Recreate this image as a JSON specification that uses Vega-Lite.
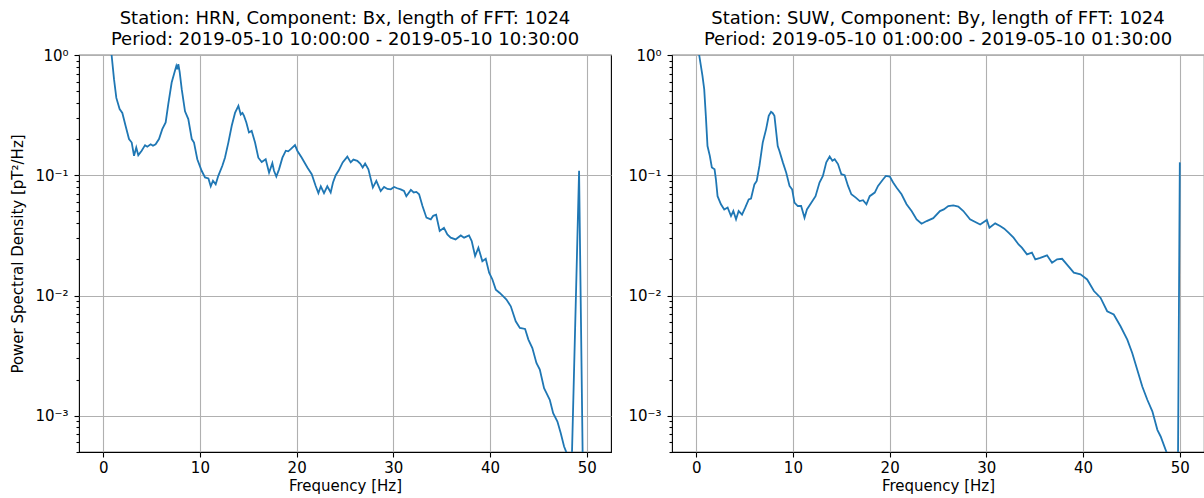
{
  "$schema": "https://vega.github.io/schema/vega-lite/v6.json",
  "padding": {"left": 10, "top": 9, "right": 0, "bottom": 0},
  "spacing": 15,
  "config": {
    "font": "DejaVu Sans",
    "view": {"stroke": "#000000", "strokeWidth": 1.1},
    "axis": {
      "domain": false,
      "tickColor": "#000000",
      "tickWidth": 1.1,
      "gridColor": "#b0b0b0",
      "gridWidth": 1.1,
      "labelFont": "DejaVu Sans",
      "labelFontSize": 15,
      "labelColor": "#000000",
      "labelFlush": false,
      "labelOverlap": false,
      "titleFont": "DejaVu Sans",
      "titleFontSize": 15,
      "titleFontWeight": "normal",
      "titleColor": "#000000"
    },
    "title": {"font": "DejaVu Sans", "fontSize": 18, "fontWeight": "normal", "color": "#000000", "lineHeight": 21, "offset": -1, "anchor": "middle"}
  },
  "datasets": {
    "hrn": [
      {"f": 0, "psd": 10}, {"f": 0.3, "psd": 3}, {"f": 0.6, "psd": 1.5}, {"f": 0.87, "psd": 1.0}, {"f": 1.12, "psd": 0.63},
      {"f": 1.36, "psd": 0.44}, {"f": 1.7, "psd": 0.355}, {"f": 1.98, "psd": 0.33}, {"f": 2.32, "psd": 0.257}, {"f": 2.67, "psd": 0.2},
      {"f": 2.95, "psd": 0.187}, {"f": 3.19, "psd": 0.145}, {"f": 3.42, "psd": 0.17}, {"f": 3.63, "psd": 0.147}, {"f": 3.98, "psd": 0.16},
      {"f": 4.33, "psd": 0.178}, {"f": 4.56, "psd": 0.173}, {"f": 4.91, "psd": 0.181}, {"f": 5.15, "psd": 0.176}, {"f": 5.42, "psd": 0.181},
      {"f": 5.77, "psd": 0.2}, {"f": 6.11, "psd": 0.242}, {"f": 6.46, "psd": 0.275}, {"f": 6.73, "psd": 0.39}, {"f": 7.08, "psd": 0.59},
      {"f": 7.42, "psd": 0.74}, {"f": 7.56, "psd": 0.81}, {"f": 7.66, "psd": 0.76}, {"f": 7.77, "psd": 0.84}, {"f": 7.91, "psd": 0.72},
      {"f": 8.12, "psd": 0.52}, {"f": 8.46, "psd": 0.34}, {"f": 8.8, "psd": 0.293}, {"f": 9.16, "psd": 0.2}, {"f": 9.39, "psd": 0.187},
      {"f": 9.73, "psd": 0.136}, {"f": 10.18, "psd": 0.109}, {"f": 10.53, "psd": 0.096}, {"f": 10.88, "psd": 0.094}, {"f": 11.12, "psd": 0.081},
      {"f": 11.35, "psd": 0.09}, {"f": 11.63, "psd": 0.084}, {"f": 11.9, "psd": 0.099}, {"f": 12.32, "psd": 0.12}, {"f": 12.59, "psd": 0.14},
      {"f": 12.94, "psd": 0.187}, {"f": 13.29, "psd": 0.258}, {"f": 13.63, "psd": 0.33}, {"f": 13.98, "psd": 0.378}, {"f": 14.22, "psd": 0.32},
      {"f": 14.4, "psd": 0.33}, {"f": 14.56, "psd": 0.312}, {"f": 14.8, "psd": 0.275}, {"f": 15.07, "psd": 0.227}, {"f": 15.35, "psd": 0.234},
      {"f": 15.7, "psd": 0.187}, {"f": 16.04, "psd": 0.14}, {"f": 16.39, "psd": 0.129}, {"f": 16.8, "psd": 0.136}, {"f": 17.15, "psd": 0.105},
      {"f": 17.49, "psd": 0.126}, {"f": 17.66, "psd": 0.109}, {"f": 17.9, "psd": 0.0975}, {"f": 18.18, "psd": 0.112}, {"f": 18.53, "psd": 0.14},
      {"f": 18.88, "psd": 0.16}, {"f": 19.13, "psd": 0.158}, {"f": 19.39, "psd": 0.165}, {"f": 19.83, "psd": 0.178}, {"f": 20.07, "psd": 0.16},
      {"f": 20.53, "psd": 0.14}, {"f": 21.11, "psd": 0.116}, {"f": 21.56, "psd": 0.102}, {"f": 21.97, "psd": 0.0815}, {"f": 22.25, "psd": 0.071},
      {"f": 22.5, "psd": 0.081}, {"f": 22.83, "psd": 0.071}, {"f": 23.17, "psd": 0.081}, {"f": 23.52, "psd": 0.072}, {"f": 23.76, "psd": 0.087},
      {"f": 24.04, "psd": 0.1}, {"f": 24.36, "psd": 0.11}, {"f": 24.76, "psd": 0.128}, {"f": 25.24, "psd": 0.143}, {"f": 25.59, "psd": 0.128},
      {"f": 25.87, "psd": 0.135}, {"f": 26.27, "psd": 0.132}, {"f": 26.57, "psd": 0.125}, {"f": 26.83, "psd": 0.116}, {"f": 27.08, "psd": 0.125},
      {"f": 27.42, "psd": 0.112}, {"f": 27.88, "psd": 0.079}, {"f": 28.24, "psd": 0.0897}, {"f": 28.69, "psd": 0.074}, {"f": 29.04, "psd": 0.08},
      {"f": 29.39, "psd": 0.077}, {"f": 29.73, "psd": 0.0764}, {"f": 30.08, "psd": 0.08}, {"f": 30.4, "psd": 0.078}, {"f": 30.76, "psd": 0.0764},
      {"f": 31.1, "psd": 0.074}, {"f": 31.34, "psd": 0.067}, {"f": 31.81, "psd": 0.0755}, {"f": 32.1, "psd": 0.072}, {"f": 32.38, "psd": 0.0727},
      {"f": 32.66, "psd": 0.0695}, {"f": 33.01, "psd": 0.0555}, {"f": 33.42, "psd": 0.0444}, {"f": 33.87, "psd": 0.043}, {"f": 34.12, "psd": 0.046},
      {"f": 34.42, "psd": 0.047}, {"f": 34.79, "psd": 0.0344}, {"f": 35.23, "psd": 0.0366}, {"f": 35.58, "psd": 0.0322}, {"f": 35.93, "psd": 0.0303},
      {"f": 36.43, "psd": 0.0293}, {"f": 36.97, "psd": 0.0316}, {"f": 37.31, "psd": 0.0303}, {"f": 37.82, "psd": 0.0316}, {"f": 38.1, "psd": 0.0284},
      {"f": 38.45, "psd": 0.0213}, {"f": 38.79, "psd": 0.025}, {"f": 39.2, "psd": 0.0193}, {"f": 39.55, "psd": 0.0202}, {"f": 39.9, "psd": 0.0155},
      {"f": 40.24, "psd": 0.0136}, {"f": 40.59, "psd": 0.0112}, {"f": 41.0, "psd": 0.0105}, {"f": 41.34, "psd": 0.00987}, {"f": 41.69, "psd": 0.00927},
      {"f": 42.14, "psd": 0.00814}, {"f": 42.65, "psd": 0.0061}, {"f": 43.08, "psd": 0.00538}, {"f": 43.62, "psd": 0.00527}, {"f": 43.96, "psd": 0.0043},
      {"f": 44.37, "psd": 0.00366}, {"f": 44.79, "psd": 0.00275}, {"f": 45.14, "psd": 0.00242}, {"f": 45.58, "psd": 0.0017}, {"f": 45.82, "psd": 0.00155},
      {"f": 46.17, "psd": 0.00136}, {"f": 46.52, "psd": 0.00105}, {"f": 46.96, "psd": 0.000897}, {"f": 47.3, "psd": 0.000718}, {"f": 47.65, "psd": 0.000555},
      {"f": 47.9, "psd": 0.000494}, {"f": 48.1, "psd": 0.00035}, {"f": 48.4, "psd": 0.0003}, {"f": 49.2, "psd": 0.109}, {"f": 49.6, "psd": 0.0003},
      {"f": 50.0, "psd": 0.0002}
    ],
    "suw": [
      {"f": 0, "psd": 2.5}, {"f": 0.15, "psd": 1.6}, {"f": 0.31, "psd": 1.0}, {"f": 0.65, "psd": 0.67}, {"f": 0.83, "psd": 0.52},
      {"f": 1.0, "psd": 0.31}, {"f": 1.17, "psd": 0.175}, {"f": 1.41, "psd": 0.145}, {"f": 1.62, "psd": 0.116}, {"f": 1.9, "psd": 0.112},
      {"f": 2.04, "psd": 0.0926}, {"f": 2.21, "psd": 0.067}, {"f": 2.56, "psd": 0.0574}, {"f": 2.9, "psd": 0.052}, {"f": 3.25, "psd": 0.054},
      {"f": 3.6, "psd": 0.0458}, {"f": 3.84, "psd": 0.0504}, {"f": 4.12, "psd": 0.043}, {"f": 4.39, "psd": 0.0504}, {"f": 4.74, "psd": 0.047},
      {"f": 5.08, "psd": 0.054}, {"f": 5.43, "psd": 0.063}, {"f": 5.67, "psd": 0.064}, {"f": 6.02, "psd": 0.084}, {"f": 6.26, "psd": 0.0897},
      {"f": 6.54, "psd": 0.12}, {"f": 6.88, "psd": 0.187}, {"f": 7.23, "psd": 0.242}, {"f": 7.5, "psd": 0.312}, {"f": 7.74, "psd": 0.337},
      {"f": 7.9, "psd": 0.33}, {"f": 8.09, "psd": 0.312}, {"f": 8.43, "psd": 0.175}, {"f": 8.6, "psd": 0.16}, {"f": 8.96, "psd": 0.128},
      {"f": 9.31, "psd": 0.105}, {"f": 9.65, "psd": 0.0815}, {"f": 9.92, "psd": 0.0764}, {"f": 10.16, "psd": 0.0592}, {"f": 10.51, "psd": 0.0555},
      {"f": 10.85, "psd": 0.0555}, {"f": 11.2, "psd": 0.0444}, {"f": 11.45, "psd": 0.052}, {"f": 11.9, "psd": 0.059}, {"f": 12.34, "psd": 0.067},
      {"f": 12.75, "psd": 0.0869}, {"f": 13.1, "psd": 0.0987}, {"f": 13.45, "psd": 0.128}, {"f": 13.8, "psd": 0.143}, {"f": 14.08, "psd": 0.132},
      {"f": 14.32, "psd": 0.136}, {"f": 14.66, "psd": 0.124}, {"f": 15.01, "psd": 0.102}, {"f": 15.35, "psd": 0.1}, {"f": 15.7, "psd": 0.0815},
      {"f": 16.04, "psd": 0.0695}, {"f": 16.5, "psd": 0.0652}, {"f": 16.91, "psd": 0.061}, {"f": 17.25, "psd": 0.062}, {"f": 17.6, "psd": 0.0574},
      {"f": 17.94, "psd": 0.067}, {"f": 18.46, "psd": 0.0718}, {"f": 18.8, "psd": 0.0815}, {"f": 19.33, "psd": 0.0926}, {"f": 19.61, "psd": 0.0987},
      {"f": 20.02, "psd": 0.0975}, {"f": 20.36, "psd": 0.087}, {"f": 20.71, "psd": 0.079}, {"f": 21.23, "psd": 0.0695}, {"f": 21.75, "psd": 0.0574},
      {"f": 22.27, "psd": 0.0504}, {"f": 22.79, "psd": 0.043}, {"f": 23.3, "psd": 0.0395}, {"f": 23.83, "psd": 0.0416}, {"f": 24.51, "psd": 0.044},
      {"f": 25.2, "psd": 0.0504}, {"f": 25.6, "psd": 0.052}, {"f": 26.06, "psd": 0.0555}, {"f": 26.58, "psd": 0.0562}, {"f": 27.1, "psd": 0.0548},
      {"f": 27.62, "psd": 0.0504}, {"f": 28.31, "psd": 0.043}, {"f": 29.36, "psd": 0.039}, {"f": 30.05, "psd": 0.0425}, {"f": 30.32, "psd": 0.0366},
      {"f": 30.91, "psd": 0.0398}, {"f": 31.42, "psd": 0.0378}, {"f": 31.85, "psd": 0.036}, {"f": 32.29, "psd": 0.0333}, {"f": 32.81, "psd": 0.0303},
      {"f": 33.33, "psd": 0.0266}, {"f": 33.67, "psd": 0.025}, {"f": 34.2, "psd": 0.022}, {"f": 34.71, "psd": 0.0227}, {"f": 35.06, "psd": 0.02},
      {"f": 35.57, "psd": 0.0206}, {"f": 36.27, "psd": 0.0216}, {"f": 36.79, "psd": 0.0187}, {"f": 37.31, "psd": 0.02}, {"f": 37.83, "psd": 0.0202},
      {"f": 38.34, "psd": 0.0181}, {"f": 39.04, "psd": 0.0155}, {"f": 39.73, "psd": 0.015}, {"f": 40.42, "psd": 0.0136}, {"f": 41.12, "psd": 0.0109},
      {"f": 41.8, "psd": 0.0096}, {"f": 42.49, "psd": 0.0074}, {"f": 43.17, "psd": 0.00695}, {"f": 43.87, "psd": 0.00555}, {"f": 44.57, "psd": 0.0043},
      {"f": 45.08, "psd": 0.00333}, {"f": 45.6, "psd": 0.00242}, {"f": 46.12, "psd": 0.00175}, {"f": 46.64, "psd": 0.00136}, {"f": 47.16, "psd": 0.00109},
      {"f": 47.68, "psd": 0.000764}, {"f": 48.02, "psd": 0.000673}, {"f": 48.64, "psd": 0.000494}, {"f": 49.0, "psd": 0.00035}, {"f": 49.8, "psd": 0.0003},
      {"f": 50.0, "psd": 0.128}
    ]
  },
  "hconcat": [
    {
      "title": {"text": ["Station: HRN, Component: Bx, length of FFT: 1024", "Period: 2019-05-10 10:00:00 - 2019-05-10 10:30:00"]},
      "width": 532,
      "height": 397,
      "data": {"name": "hrn"},
      "mark": {"type": "line", "clip": true, "color": "#1f77b4", "strokeWidth": 1.8},
      "encoding": {
        "x": {
          "field": "f", "type": "quantitative",
          "scale": {"domain": [-2.5, 52.5], "nice": false, "zero": false},
          "axis": {"values": [0, 10, 20, 30, 40, 50], "grid": true, "tickSize": 5, "labelPadding": 3, "titlePadding": 3, "title": "Frequency [Hz]"}
        },
        "y": {
          "field": "psd", "type": "quantitative",
          "scale": {"type": "log", "domain": [0.0005, 1], "nice": false},
          "axis": {
            "title": "Power Spectral Density [pT²/Hz]",
            "titlePadding": 9,
            "labelPadding": 6,
            "values": [0.0005, 0.0006, 0.0007, 0.0008, 0.0009, 0.001, 0.002, 0.003, 0.004, 0.005, 0.006, 0.007, 0.008, 0.009, 0.01, 0.02, 0.03, 0.04, 0.05, 0.06, 0.07, 0.08, 0.09, 0.1, 0.2, 0.3, 0.4, 0.5, 0.6, 0.7, 0.8, 0.9, 1],
            "labelExpr": "datum.value == 1 ? '10⁰' : datum.value == 0.1 ? '10⁻¹' : datum.value == 0.01 ? '10⁻²' : datum.value == 0.001 ? '10⁻³' : ''",
            "tickSize": {"condition": {"test": "datum.value == 1 || datum.value == 0.1 || datum.value == 0.01 || datum.value == 0.001", "value": 5}, "value": 3},
            "gridOpacity": {"condition": {"test": "datum.value == 1 || datum.value == 0.1 || datum.value == 0.01 || datum.value == 0.001", "value": 1}, "value": 0}
          }
        }
      }
    },
    {
      "title": {"text": ["Station: SUW, Component: By, length of FFT: 1024", "Period: 2019-05-10 01:00:00 - 2019-05-10 01:30:00"]},
      "width": 532,
      "height": 397,
      "data": {"name": "suw"},
      "mark": {"type": "line", "clip": true, "color": "#1f77b4", "strokeWidth": 1.8},
      "encoding": {
        "x": {
          "field": "f", "type": "quantitative",
          "scale": {"domain": [-2.5, 52.5], "nice": false, "zero": false},
          "axis": {"values": [0, 10, 20, 30, 40, 50], "grid": true, "tickSize": 5, "labelPadding": 3, "titlePadding": 3, "title": "Frequency [Hz]"}
        },
        "y": {
          "field": "psd", "type": "quantitative",
          "scale": {"type": "log", "domain": [0.0005, 1], "nice": false},
          "axis": {
            "title": null,
            "labelPadding": 6,
            "values": [0.0005, 0.0006, 0.0007, 0.0008, 0.0009, 0.001, 0.002, 0.003, 0.004, 0.005, 0.006, 0.007, 0.008, 0.009, 0.01, 0.02, 0.03, 0.04, 0.05, 0.06, 0.07, 0.08, 0.09, 0.1, 0.2, 0.3, 0.4, 0.5, 0.6, 0.7, 0.8, 0.9, 1],
            "labelExpr": "datum.value == 1 ? '10⁰' : datum.value == 0.1 ? '10⁻¹' : datum.value == 0.01 ? '10⁻²' : datum.value == 0.001 ? '10⁻³' : ''",
            "tickSize": {"condition": {"test": "datum.value == 1 || datum.value == 0.1 || datum.value == 0.01 || datum.value == 0.001", "value": 5}, "value": 3},
            "gridOpacity": {"condition": {"test": "datum.value == 1 || datum.value == 0.1 || datum.value == 0.01 || datum.value == 0.001", "value": 1}, "value": 0}
          }
        }
      }
    }
  ]
}
